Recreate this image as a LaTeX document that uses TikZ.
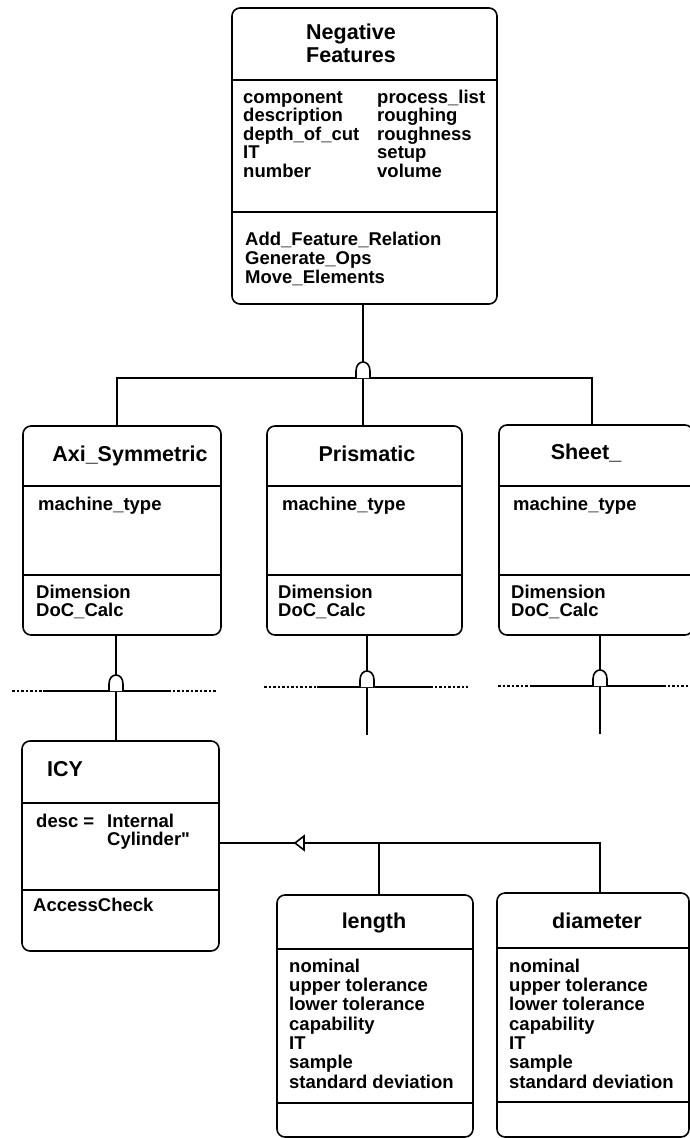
\documentclass[tikz,border=0pt]{standalone}
\usepackage{fontspec}
\setmainfont{Liberation Sans}
\usetikzlibrary{calc}

\newcommand\firstline{\rule{0pt}{14pt}}
\newcommand\firsttitle{\rule{0pt}{16pt}}

\tikzset{
  umlbox/.style={draw, line width=1.6pt, rounded corners=8pt, anchor=north west,
    inner sep=0pt, outer sep=0pt},
  link/.style={line width=1.6pt},
  dots/.style={line width=1.4pt, dash pattern=on 2.5pt off 2pt},
  ttl/.style={font=\fontsize{21.5}{23.5}\selectfont\bfseries, inner sep=0pt, align=center},
  body/.style={font=\fontsize{18.5}{18.5}\selectfont\bfseries, inner sep=0pt, align=left},
  mbody/.style={font=\fontsize{18.5}{19}\selectfont\bfseries, inner sep=0pt, align=left},
  sbody/.style={font=\fontsize{18.5}{18}\selectfont\bfseries, inner sep=0pt, align=left},
  lbody/.style={font=\fontsize{18.5}{19.3}\selectfont\bfseries, inner sep=0pt, align=left},
  bump/.style={line width=1.6pt, fill=white},
}

\begin{document}
\begin{tikzpicture}[x=1pt, y=-1pt]
\useasboundingbox (0,0) rectangle (690,1138);

% ---------- class boxes ----------
\node[umlbox, minimum width=265pt, minimum height=296pt] (nf)  at (232,8)   {};
\node[umlbox, minimum width=198pt, minimum height=209pt] (axi) at (23,426)  {};
\node[umlbox, minimum width=195pt, minimum height=209pt] (pri) at (267,426) {};
\node[umlbox, minimum width=194pt, minimum height=210pt] (sht) at (499,425) {};
\node[umlbox, minimum width=197pt, minimum height=210pt] (icy) at (22,741)  {};
\node[umlbox, minimum width=196pt, minimum height=242pt] (len) at (277,895) {};
\node[umlbox, minimum width=192pt, minimum height=244pt] (dia) at (497,893) {};

% ---------- compartment dividers ----------
\foreach \b/\ya/\yb in {nf/80/212, axi/486/575, pri/486/575, sht/486/575,
                        icy/803/890, len/949/1103, dia/948/1102}{
  \draw[link] (\b.west |- 0,\ya) -- (\b.east |- 0,\ya);
  \draw[link] (\b.west |- 0,\yb) -- (\b.east |- 0,\yb);
}

% ---------- Negative Features ----------
\node[ttl, anchor=north] (nft) at (351,23) {\firsttitle Negative\\Features};
\node[body, anchor=north west] (nfa1) at (243,89)
  {\firstline component\\description\\depth\_of\_cut\\IT\\number};
\node[body, anchor=north west] (nfa2) at (377,89)
  {\firstline process\_list\\roughing\\roughness\\setup\\volume};
\node[mbody, anchor=north west] (nfm) at (245,231)
  {\firstline Add\_Feature\_Relation\\Generate\_Ops\\Move\_Elements};

% ---------- Axi_Symmetric / Prismatic / Sheet_ ----------
\node[ttl, anchor=base] (axit) at (130,461) {Axi\_Symmetric};
\node[ttl, anchor=base] (prit) at (367,461) {Prismatic};
\node[ttl, anchor=base] (shtt) at (586,459) {Sheet\_};

\node[body, anchor=base west] (axia) at (38,510)  {machine\_type};
\node[body, anchor=base west] (pria) at (282,510) {machine\_type};
\node[body, anchor=base west] (shta) at (513,510) {machine\_type};

\node[sbody, anchor=north west] (axim) at (36,584)  {\firstline Dimension\\DoC\_Calc};
\node[sbody, anchor=north west] (prim) at (278,584) {\firstline Dimension\\DoC\_Calc};
\node[sbody, anchor=north west] (shtm) at (511,584) {\firstline Dimension\\DoC\_Calc};

% ---------- ICY ----------
\node[ttl, anchor=base west] (icyt) at (47,776) {ICY};
\node[body, anchor=base west] (icyd) at (36,827) {desc =};
\node[sbody, anchor=north west] (icyv) at (107,813)
  {\firstline Internal\\Cylinder\textquotedbl};
\node[body, anchor=base west] (icym) at (33,911) {AccessCheck};

% ---------- length / diameter ----------
\node[ttl, anchor=base] (lent) at (374,928) {length};
\node[ttl, anchor=base] (diat) at (597,928) {diameter};
\node[lbody, anchor=north west] (lena) at (289,958)
  {\firstline nominal\\upper tolerance\\lower tolerance\\capability\\IT\\sample\\standard deviation};
\node[lbody, anchor=north west] (diaa) at (509,958)
  {\firstline nominal\\upper tolerance\\lower tolerance\\capability\\IT\\sample\\standard deviation};

% ---------- generalisation: Negative Features ----------
\coordinate (g1)  at (363,378);
\coordinate (g1l) at (117,378);
\coordinate (g1r) at (592,378);
\draw[link] (axi.north -| g1l) -- (g1l) -- (g1r) -- (sht.north -| g1r);
\draw[link] (g1) -- (pri.north -| g1);
\draw[bump] ($(g1)+(-7,0)$) -- ($(g1)+(-7,-7)$)
  .. controls ($(g1)+(-7,-19)$) and ($(g1)+(7,-19)$) .. ($(g1)+(7,-7)$) -- ($(g1)+(7,0)$);
\draw[link] (nf.south -| g1) -- ($(g1)+(0,-16)$);

% ---------- generalisation: Axi_Symmetric ----------
\coordinate (g2) at (116,691);
\draw[dots] (12,691) -- (43,691);
\draw[dots] (168,691) -- (217,691);
\draw[link] (43,691) -- (168,691);
\draw[link] (g2) -- (icy.north -| g2);
\draw[bump] ($(g2)+(-7,0)$) -- ($(g2)+(-7,-7)$)
  .. controls ($(g2)+(-7,-19)$) and ($(g2)+(7,-19)$) .. ($(g2)+(7,-7)$) -- ($(g2)+(7,0)$);
\draw[link] (axi.south -| g2) -- ($(g2)+(0,-16)$);

% ---------- generalisation: Prismatic ----------
\coordinate (g3) at (367,687);
\coordinate (g3e) at (367,735);
\draw[dots] (264,687) -- (317,687);
\draw[dots] (430,687) -- (468,687);
\draw[link] (317,687) -- (430,687);
\draw[link] (g3) -- (g3e);
\draw[bump] ($(g3)+(-7,0)$) -- ($(g3)+(-7,-7)$)
  .. controls ($(g3)+(-7,-19)$) and ($(g3)+(7,-19)$) .. ($(g3)+(7,-7)$) -- ($(g3)+(7,0)$);
\draw[link] (pri.south -| g3) -- ($(g3)+(0,-16)$);

% ---------- generalisation: Sheet_ ----------
\coordinate (g4) at (600,686);
\coordinate (g4e) at (600,734);
\draw[dots] (498,686) -- (530,686);
\draw[dots] (663,686) -- (690,686);
\draw[link] (530,686) -- (663,686);
\draw[link] (g4) -- (g4e);
\draw[bump] ($(g4)+(-7,0)$) -- ($(g4)+(-7,-7)$)
  .. controls ($(g4)+(-7,-19)$) and ($(g4)+(7,-19)$) .. ($(g4)+(7,-7)$) -- ($(g4)+(7,0)$);
\draw[link] (sht.south -| g4) -- ($(g4)+(0,-16)$);

% ---------- association: ICY -- length, diameter ----------
\coordinate (tip) at (295,843);
\coordinate (tb)  at (304,843);
\coordinate (jl)  at (379,843);
\coordinate (jd)  at (600,843);
\draw[link] (icy.east |- tip) -- (tip);
\draw[link, fill=white] (tip) -- (304,836) -- (304,850) -- cycle;
\draw[link] (tb) -- (jd) -- (dia.north -| jd);
\draw[link] (jl) -- (len.north -| jl);

\end{tikzpicture}
\end{document}
